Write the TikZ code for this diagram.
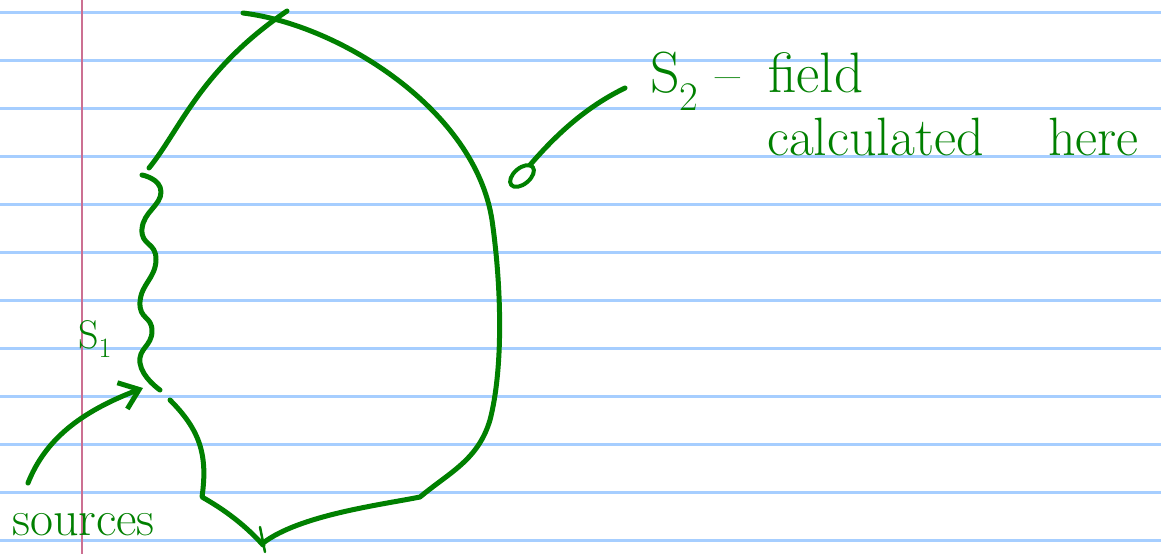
\documentclass[tikz,border=0pt]{standalone}
\usetikzlibrary{arrows.meta}
\definecolor{ink}{RGB}{0,128,0}
\definecolor{ruled}{RGB}{166,206,255}
\definecolor{marginc}{RGB}{204,112,146}
\begin{document}
\begin{tikzpicture}[x=1pt,y=-1pt,
  pen/.style={draw=ink,line width=5pt,line cap=round,line join=round},
  hand/.style={text=ink,font=\fontsize{54}{54}\selectfont,inner sep=0pt}]
\useasboundingbox (0,0) rectangle (1161,554);
\fill[white] (0,0) rectangle (1161,554);
% ruled paper
\foreach \y in {12,60,...,540} \draw[ruled,line width=3pt] (0,\y) -- (1161,\y);
\draw[marginc,line width=2pt] (82,0) -- (82,554);
% surface S2 (big closed curve)
\draw[pen] (149,168) .. controls (180,130) and (200,70) .. (287,11);
\draw[pen] (243,13) .. controls (340,25) and (475,110) .. (492,220)
  .. controls (502,290) and (503,370) .. (490,420)
  .. controls (478,460) and (450,472) .. (420,497)
  .. controls (380,505) and (300,515) .. (263,543);
\draw[pen,line width=2.5pt] (260,527) -- (265,552);
\draw[pen] (170,400) .. controls (200,430) and (208,455) .. (202,497)
  .. controls (225,510) and (245,525) .. (263,545);
% wavy surface S1
\draw[pen] plot[smooth,tension=0.9] coordinates {(142,175) (161,192) (142,229) (156,260) (140,302) (152,331) (140,363) (160,390)};
% labels
\node[hand,anchor=base west] (s1) at (78,348) {\fontsize{40}{40}\selectfont S\textsubscript{1}};
\node[hand,anchor=base west] (src) at (12,535) {\fontsize{50}{50}\selectfont sources};
\node[hand,anchor=base west] (s2) at (650,92) {{\fontsize{58}{58}\selectfont S\textsubscript{2}} --};
\node[hand,anchor=base west] (field) at (768,92) {\fontsize{57}{57}\selectfont field};
\node[hand,anchor=base west] (calc) at (767,155) {calculated};
\node[hand,anchor=base west] (here) at (1048,155) {here};
% arrow from sources
\coordinate (a0) at (28,483);
\coordinate (a1) at (143,388);
\draw[pen,-{Straight Barb[length=18pt,width=28pt,line width=5pt]}] (a0) .. controls (45,440) and (80,412) .. (a1);
% pointer to S2
\coordinate (p0) at (625,88);
\coordinate (p1) at (530,165);
\draw[pen] (p0) .. controls (590,105) and (560,130) .. (p1);
\draw[pen,line width=4pt,rotate around={40:(522,176)}] (522,176) ellipse (14 and 8);
\end{tikzpicture}
\end{document}
